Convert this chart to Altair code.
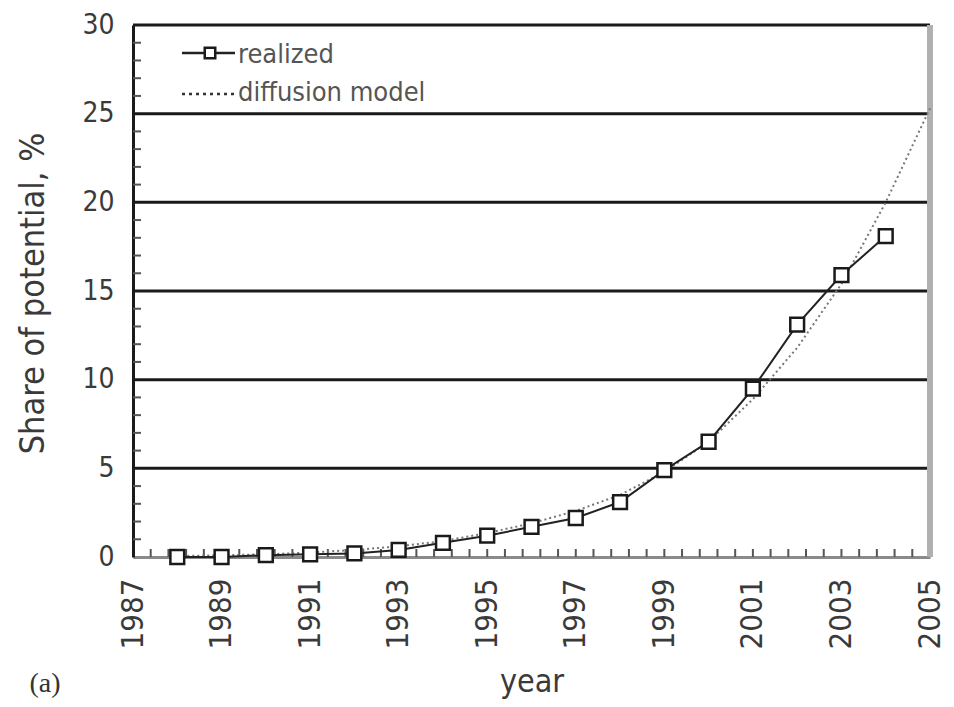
import altair as alt
import pandas as pd

# ---- data ----
years_realized = [1988, 1989, 1990, 1991, 1992, 1993, 1994, 1995, 1996, 1997,
                  1998, 1999, 2000, 2001, 2002, 2003, 2004]
realized = [0.0, 0.0, 0.1, 0.15, 0.2, 0.4, 0.8, 1.2, 1.7, 2.2,
            3.1, 4.9, 6.5, 9.5, 13.1, 15.9, 18.1]

years_model = [1988, 1989, 1990, 1991, 1992, 1993, 1994, 1995, 1996, 1997,
               1998, 1999, 2000, 2001, 2002, 2003, 2004, 2005]
model = [0.05, 0.1, 0.15, 0.25, 0.4, 0.6, 0.9, 1.35, 1.9, 2.6,
         3.5, 4.8, 6.5, 8.9, 11.8, 15.4, 20.0, 25.3]

x_label_years = [1987, 1989, 1991, 1993, 1995, 1997, 1999, 2001, 2003, 2005]
y_label_values = [0, 5, 10, 15, 20, 25, 30]
grid_values = [5, 10, 15, 20, 25, 30]
y_minor_ticks = [v for v in range(1, 30) if v % 5 != 0]
x_minor_ticks = [round(1987 + 0.4 * i, 1) for i in range(1, 45)]

legend_labels = ["realized", "diffusion model"]

W, H = 797, 532
FONT = "Liberation Sans Narrow, DejaVu Sans Condensed, Liberation Sans"
LABEL_COLOR = "#3a3a3a"

xscale = alt.Scale(domain=[1987, 2005], nice=False, zero=False)
yscale = alt.Scale(domain=[0, 30], nice=False, zero=True)

df_r = pd.DataFrame({"year": years_realized, "value": realized})
df_m = pd.DataFrame({"year": years_model, "value": model})

axes = alt.Chart(df_m).mark_point(opacity=0).encode(
    x=alt.X("year:Q", scale=xscale,
            axis=alt.Axis(values=x_label_years, format="d", labelAngle=270,
                          labelAlign="right", labelBaseline="middle",
                          labelFontSize=31, labelFont=FONT, labelColor=LABEL_COLOR,
                          labelPadding=21, ticks=False, domainColor="#8a8a8a",
                          domainWidth=3, grid=False, title="year",
                          titleFont=FONT, titleFontSize=32, titleFontWeight="normal",
                          titleColor=LABEL_COLOR, titleY=134,
                          titleBaseline="alphabetic",
                          labelFlush=False, labelOverlap=False)),
    y=alt.Y("value:Q", scale=yscale,
            axis=alt.Axis(values=y_label_values, labelFontSize=28, labelFont=FONT,
                          labelColor=LABEL_COLOR, labelPadding=19, ticks=False,
                          domainColor="#1a1a1a", domainWidth=3, grid=False,
                          title="Share of potential, %", titleFont=FONT,
                          titleFontSize=34, titleFontWeight="normal",
                          titleColor=LABEL_COLOR, titleX=-100, titleY=268,
                          titleAngle=270, titleAlign="center",
                          titleBaseline="middle",
                          labelFlush=False, labelOverlap=False)),
)

grid = alt.Chart(pd.DataFrame({"g": grid_values})).mark_rule(
    color="#1a1a1a", strokeWidth=3
).encode(y=alt.Y("g:Q", scale=yscale), x=alt.value(0), x2=alt.value(W))

right_border = alt.Chart(pd.DataFrame({"x": [2005]})).mark_rule(
    color="#b0b0b0", strokeWidth=6
).encode(x=alt.X("x:Q", scale=xscale), y=alt.value(0), y2=alt.value(H))

yticks = alt.Chart(pd.DataFrame({"t": y_minor_ticks})).mark_rule(
    color="#555", strokeWidth=2
).encode(y=alt.Y("t:Q", scale=yscale), x=alt.value(0), x2=alt.value(8))

xticks = alt.Chart(pd.DataFrame({"t": x_minor_ticks})).mark_rule(
    color="#555", strokeWidth=2
).encode(x=alt.X("t:Q", scale=xscale), y=alt.value(H), y2=alt.value(H - 8))

model_line = alt.Chart(df_m).mark_line(
    color="#777", strokeWidth=2, strokeDash=[2, 3]
).encode(x=alt.X("year:Q", scale=xscale), y=alt.Y("value:Q", scale=yscale))

real_line = alt.Chart(df_r).mark_line(color="#222", strokeWidth=2).encode(
    x=alt.X("year:Q", scale=xscale), y=alt.Y("value:Q", scale=yscale))

real_pts = alt.Chart(df_r).mark_point(
    shape="square", filled=True, fill="white", stroke="#1a1a1a",
    strokeWidth=2.5, size=190, opacity=1
).encode(x=alt.X("year:Q", scale=xscale), y=alt.Y("value:Q", scale=yscale))

one = pd.DataFrame({"a": [0]})
leg_line = alt.Chart(one).mark_rule(color="#222", strokeWidth=2.5).encode(
    x=alt.value(49), x2=alt.value(102), y=alt.value(28))
leg_pt = alt.Chart(one).mark_point(
    shape="square", filled=True, fill="white", stroke="#1a1a1a",
    strokeWidth=2.5, size=110, opacity=1
).encode(x=alt.value(77), y=alt.value(28))
leg_dot = alt.Chart(one).mark_rule(color="#333", strokeWidth=2.5, strokeDash=[3, 4]).encode(
    x=alt.value(49), x2=alt.value(102), y=alt.value(69))
leg_text1 = alt.Chart(one).mark_text(
    align="left", baseline="alphabetic", font=FONT, fontSize=27, color="#555"
).encode(x=alt.value(105), y=alt.value(38), text=alt.value(legend_labels[0]))
leg_text2 = alt.Chart(one).mark_text(
    align="left", baseline="alphabetic", font=FONT, fontSize=27, color="#555"
).encode(x=alt.value(105), y=alt.value(76), text=alt.value(legend_labels[1]))

panel_tag = alt.Chart(one).mark_text(
    align="center", baseline="alphabetic", font="Liberation Serif", fontSize=28,
    color="#333"
).encode(x=alt.value(-88), y=alt.value(667), text=alt.value("(a)"))

chart = alt.layer(
    axes, grid, right_border, yticks, xticks, model_line, real_line, real_pts,
    leg_line, leg_pt, leg_dot, leg_text1, leg_text2, panel_tag
).properties(
    width=W, height=H,
    autosize=alt.AutoSizeParams(type="none"),
    padding={"left": 125, "top": 17, "right": 16, "bottom": 142},
).configure_view(stroke=None).configure(background="white")

chart.save("out.html", embed_options={"renderer": "svg", "actions": False})
